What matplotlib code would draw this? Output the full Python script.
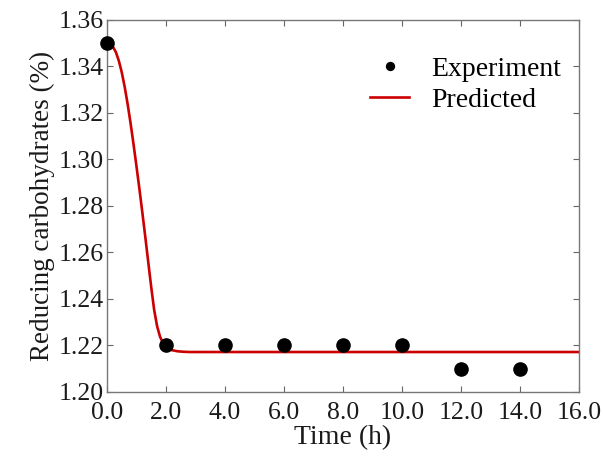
import numpy as np
import matplotlib
matplotlib.use('Agg')
import matplotlib.pyplot as plt

# experimental data
time_exp = [0, 2, 4, 6, 8, 10, 12, 14]
carb_exp = [1.35, 1.22, 1.22, 1.22, 1.22, 1.22, 1.21, 1.21]

# predicted curve
time_pred = [0, 0.1, 0.2, 0.3, 0.4, 0.5, 0.6, 0.7, 0.8, 0.9, 1.0, 1.1, 1.2, 1.3,
             1.4, 1.5, 1.6, 1.7, 1.8, 1.9, 2.0, 2.2, 2.4, 2.6, 2.8, 3.0, 16.0]
carb_pred = [1.3500, 1.3497, 1.3485, 1.3462, 1.3425, 1.3375, 1.3312, 1.3238, 1.3155,
             1.3065, 1.2970, 1.2872, 1.2770, 1.2665, 1.2557, 1.2450, 1.2352, 1.2282,
             1.2237, 1.2210, 1.2193, 1.2180, 1.2175, 1.2173, 1.2172, 1.2172, 1.2172]

plt.rcParams['font.family'] = ['Liberation Serif', 'DejaVu Serif']

fig = plt.figure(figsize=(6.03, 4.69), dpi=100)
ax = fig.add_axes([107/603, 1-392/469, 472/603, 372/469])

ax.plot(time_pred, carb_pred, color='#cc0000', lw=1.9, label='Predicted', zorder=2)
ax.plot(time_exp, carb_exp, 'o', color='black', ms=9.5, label='Experiment', zorder=3, clip_on=False)

ax.set_xlim(0, 16)
ax.set_ylim(1.20, 1.36)
xt = np.arange(0, 16.1, 2)
yt = np.arange(1.20, 1.361, 0.02)
ax.set_xticks(xt)
ax.set_xticklabels(['%.1f' % v for v in xt])
ax.set_yticks(yt)
ax.set_yticklabels(['%.2f' % v for v in yt])
ax.tick_params(direction='in', top=True, right=True, length=4, width=0.8,
               labelsize=18.5, colors='#666666', labelcolor='#1a1a1a', pad=2)
ax.tick_params(axis='x', pad=7)
for s in ax.spines.values():
    s.set_color('#777777')
    s.set_linewidth(1.0)

ax.set_xlabel('Time (h)', fontsize=20, color='#1a1a1a', labelpad=1)
ax.set_ylabel('Reducing carbohydrates (%)', fontsize=19.5, color='#1a1a1a', labelpad=3)

h, l = ax.get_legend_handles_labels()
leg = ax.legend(h[::-1], l[::-1], loc='upper left', frameon=False, fontsize=20,
                markerscale=0.6, handlelength=1.4, handletextpad=0.8,
                labelspacing=0.2, bbox_to_anchor=(0.505, 0.97))

fig.savefig('out.png', dpi=100)
